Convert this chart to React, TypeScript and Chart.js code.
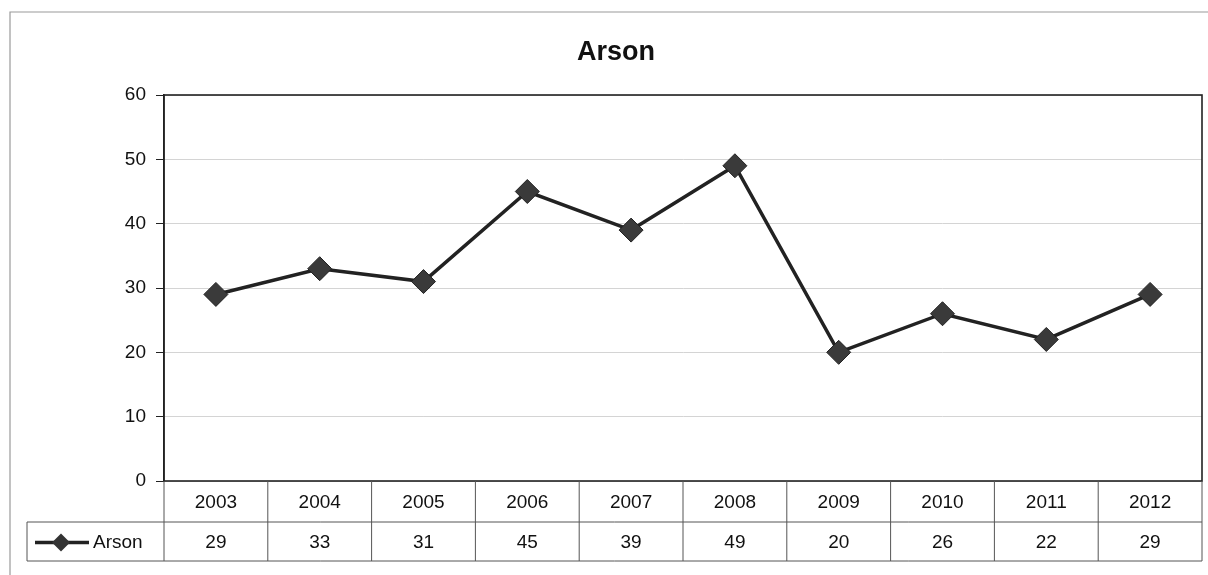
import React, { useEffect, useRef } from "react";
import { Chart, registerables } from "chart.js";

Chart.register(...registerables);

const categories = ["2003", "2004", "2005", "2006", "2007", "2008", "2009", "2010", "2011", "2012"];
const arsonValues = [29, 33, 31, 45, 39, 49, 20, 26, 22, 29];
const seriesName = "Arson";
const chartTitle = "Arson";
const yTicks = [0, 10, 20, 30, 40, 50, 60];

const FONT = "'Liberation Sans', Arial, sans-serif";

const tablePlugin = {
  id: "tablePlugin",
  afterDraw(chart: any) {
    const ctx = chart.ctx;
    const area = chart.chartArea;
    const x = chart.scales.x;
    const n = categories.length;
    const left = area.left;
    const right = area.right;
    const colW = (right - left) / n;
    const row1Top = area.bottom;
    const row1Bot = row1Top + 41;
    const row2Bot = row1Bot + 39;
    const outerLeft = 10;
    const legendLeft = 27;

    ctx.save();
    // outer frame
    ctx.strokeStyle = "#9a9a9a";
    ctx.lineWidth = 1.2;
    ctx.beginPath();
    ctx.moveTo(outerLeft, 575);
    ctx.lineTo(outerLeft, 12);
    ctx.lineTo(1208, 12);
    ctx.stroke();

    // plot box
    ctx.strokeStyle = "#222";
    ctx.lineWidth = 1.6;
    ctx.strokeRect(area.left, area.top, area.right - area.left, area.bottom - area.top);

    // title
    ctx.fillStyle = "#111";
    ctx.font = `bold 27px ${FONT}`;
    ctx.textAlign = "center";
    ctx.textBaseline = "middle";
    ctx.fillText(chartTitle, 616, 53);

    // table lines
    ctx.strokeStyle = "#555";
    ctx.lineWidth = 1;
    ctx.beginPath();
    ctx.moveTo(legendLeft, row1Bot);
    ctx.lineTo(right, row1Bot);
    ctx.moveTo(legendLeft, row2Bot);
    ctx.lineTo(right, row2Bot);
    ctx.moveTo(legendLeft, row1Bot);
    ctx.lineTo(legendLeft, row2Bot);
    for (let i = 0; i <= n; i++) {
      const xx = left + i * colW;
      ctx.moveTo(xx, row1Top);
      ctx.lineTo(xx, row2Bot);
    }
    ctx.stroke();

    // table text
    ctx.fillStyle = "#111";
    ctx.font = `19px ${FONT}`;
    ctx.textAlign = "center";
    ctx.textBaseline = "middle";
    for (let i = 0; i < n; i++) {
      const cx = x.getPixelForValue(i);
      ctx.fillText(categories[i], cx, (row1Top + row1Bot) / 2 + 1);
      ctx.fillText(String(arsonValues[i]), cx, (row1Bot + row2Bot) / 2 + 1);
    }

    // legend key
    const ly = (row1Bot + row2Bot) / 2 + 1;
    ctx.strokeStyle = "#222";
    ctx.lineWidth = 3.5;
    ctx.beginPath();
    ctx.moveTo(35, ly);
    ctx.lineTo(89, ly);
    ctx.stroke();
    ctx.fillStyle = "#333";
    ctx.beginPath();
    ctx.moveTo(61, ly - 9);
    ctx.lineTo(70, ly);
    ctx.lineTo(61, ly + 9);
    ctx.lineTo(52, ly);
    ctx.closePath();
    ctx.fill();
    ctx.fillStyle = "#111";
    ctx.textAlign = "left";
    ctx.fillText(seriesName, 93, ly);
    ctx.restore();
  },
};

export default function App() {
  const ref = useRef<HTMLCanvasElement>(null);
  useEffect(() => {
    if (!ref.current) return;
    const chart = new Chart(ref.current, {
      type: "line",
      data: {
        labels: categories,
        datasets: [
          {
            label: seriesName,
            data: arsonValues,
            borderColor: "#222",
            borderWidth: 3.5,
            backgroundColor: "#333",
            pointStyle: "rectRot",
            pointRadius: 12,
            pointBorderColor: "#222",
            pointBorderWidth: 1,
            pointBackgroundColor: "#3a3a3a",
            tension: 0,
          },
        ],
      },
      options: {
        responsive: false,
        animation: false,
        devicePixelRatio: 1,
        layout: { autoPadding: false, padding: { top: 95, right: 6, bottom: 94, left: 0 } },
        plugins: {
          legend: { display: false },
          title: { display: false },
          tooltip: { enabled: false },
        },
        scales: {
          x: {
            type: "category",
            offset: true,
            display: false,
          },
          y: {
            min: 0,
            max: 60,
            afterBuildTicks(scale: any) {
              scale.ticks = yTicks.map((v) => ({ value: v }));
            },
            afterFit(scale: any) {
              scale.width = 164;
            },
            ticks: {
              color: "#111",
              font: { family: FONT, size: 19 },
              padding: 10,
            },
            grid: {
              color: "#d4d4d4",
              lineWidth: 1,
              tickColor: "#222",
              tickLength: 8,
              drawTicks: true,
            },
            border: { color: "#222", width: 1.6 },
          },
        },
      },
      plugins: [tablePlugin],
    });
    return () => chart.destroy();
  }, []);
  return (
    <div style={{ position: "fixed", left: 0, top: 0, width: 1208, height: 575, background: "#fff" }}>
      <canvas ref={ref} width={1208} height={575} />
    </div>
  );
}
